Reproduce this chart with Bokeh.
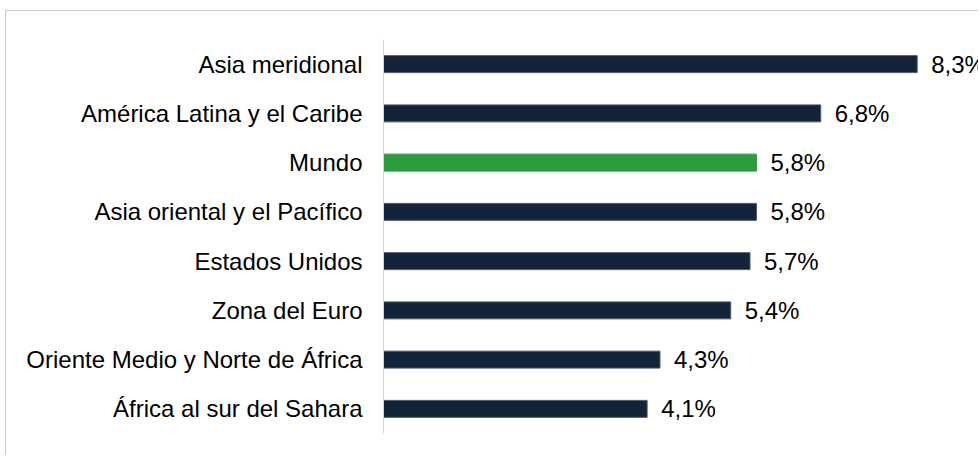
from bokeh.plotting import figure
from bokeh.models import ColumnDataSource, FactorRange, Range1d
from bokeh.core.properties import value
from bokeh.embed import file_html
from bokeh.resources import INLINE

categories = ["Asia meridional", "América Latina y el Caribe", "Mundo",
              "Asia oriental y el Pacífico", "Estados Unidos", "Zona del Euro",
              "Oriente Medio y Norte de África", "África al sur del Sahara"]
values = [8.3, 6.8, 5.8, 5.8, 5.7, 5.4, 4.3, 4.1]
labels = [f"{v:.1f}".replace(".", ",") + "%" for v in values]
highlight = "Mundo"

NAVY = "#12233A"
GREEN = "#2B9D3E"
colors = [GREEN if c == highlight else NAVY for c in categories]
outlines = ["#3f8f4a" if c == highlight else "#4d5c6c" for c in categories]

src = ColumnDataSource(dict(cat=categories, val=values, lab=labels,
                            col=colors, oc=outlines))

p = figure(width=973, height=445, output_backend="svg", toolbar_location=None,
           y_range=FactorRange(factors=list(reversed(categories))),
           x_range=Range1d(0, 596 / 64.3),
           min_border_left=377, min_border_right=0,
           min_border_top=28, min_border_bottom=23,
           margin=(10, 0, 0, 5),
           styles={"border-left": "1px solid #c8c8c8",
                   "border-top": "1px solid #c8c8c8"})
p.outline_line_color = None
p.background_fill_color = "white"
p.border_fill_color = "white"
p.grid.visible = False
p.xaxis.visible = False

ya = p.yaxis[0]
ya.axis_line_color = "#d9d9d9"
ya.axis_line_width = 1
ya.major_tick_line_color = None
ya.minor_tick_line_color = None
ya.major_label_standoff = 15
ya.major_label_text_font = "Liberation Sans"
ya.major_label_text_font_size = "24px"
ya.major_label_text_color = "#000000"

p.hbar(y="cat", right="val", left=0, height=0.345, source=src,
       fill_color="col", line_color="oc", line_width=1)

p.text(x="val", y="cat", text="lab", source=src, x_offset=14,
       text_baseline="middle", text_align="left",
       text_font=value("Liberation Sans"), text_font_size="24px",
       text_color="#000000")

open("out.html", "w").write(file_html(p, INLINE))
